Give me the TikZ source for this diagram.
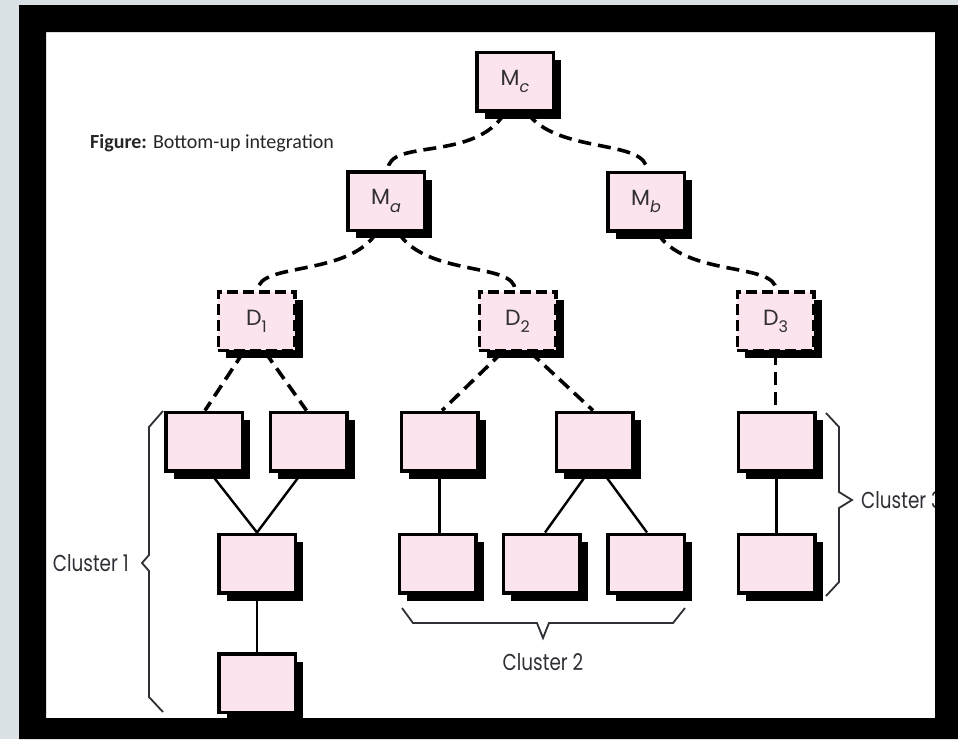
\documentclass[tikz,border=0pt]{standalone}
\usepackage{fontspec}
\setmainfont{Poppins}
\newfontfamily\capfont{Carlito}
\usetikzlibrary{shadows,calc,backgrounds}
\definecolor{boxpink}{RGB}{251,228,237}
\definecolor{pagegray}{RGB}{218,225,228}
\definecolor{inkgray}{RGB}{50,46,54}
% lowered index for module names
\newcommand\lowidx[1]{\raisebox{-0.6ex}{\fontsize{16}{16}\selectfont #1}}
\newcommand\narrow[1]{\scalebox{0.8}[1]{#1}}

\begin{document}
\begin{tikzpicture}[x=1pt,y=-1pt,
  unit/.style={rectangle, draw=black, line width=3.5pt, fill=boxpink,
    minimum width=76.5pt, minimum height=58.5pt, inner sep=0pt,
    text=inkgray, font=\fontsize{22}{22}\selectfont,
    drop shadow={shadow xshift=8pt, shadow yshift=-8pt, opacity=1, fill=black}},
  driver/.style={unit, dash pattern=on 11pt off 5pt},
  conn/.style={line width=3.6pt, dash pattern=on 13pt off 7pt},
  tie/.style={line width=2.4pt},
  bracket/.style={line width=1.8pt, draw=inkgray, line join=miter},
  clabel/.style={inner sep=0pt, text=inkgray, font=\fontsize{23}{23}\selectfont}
]
\useasboundingbox (0,0) rectangle (958,739);

% modules
\node[unit] (Mc) at (515,81.5) {\raisebox{0.5ex}{M\lowidx{\itshape c}}};
\node[unit] (Ma) at (386,201) {\raisebox{0.5ex}{M\lowidx{\itshape a}}};
\node[unit] (Mb) at (646,201.5) {\raisebox{0.5ex}{M\lowidx{\itshape b}}};
\node[driver] (D1) at (256.5,321) {\raisebox{0.5ex}{D\lowidx{1}}};
\node[driver] (D2) at (517.5,321) {\raisebox{0.5ex}{D\lowidx{2}}};
\node[driver] (D3) at (775.5,321) {\raisebox{0.5ex}{D\lowidx{3}}};
\node[unit] (A1) at (204,441.5) {};
\node[unit] (A2) at (308.5,441.5) {};
\node[unit] (B1) at (439.5,441.5) {};
\node[unit] (B2) at (594.5,441.5) {};
\node[unit] (C1) at (776.5,441.5) {};
\node[unit] (A3) at (257,563.5) {};
\node[unit] (B3) at (437.5,563.5) {};
\node[unit] (B4) at (541.5,563.5) {};
\node[unit] (B5) at (646,563.5) {};
\node[unit] (C2) at (776.5,563.5) {};
\node[unit] (A4) at (257,683) {};

\begin{scope}[on background layer]
  \fill[pagegray] (0,0) rectangle (958,739);
  \fill[white] (46,32) rectangle (935,718);
  % dashed calls between modules and drivers
  \draw[conn] ($(Mc.south)+(-10,0)$) .. controls +(-30,50) and +(0,-32) .. ($(Ma.north)+(2,0)$);
  \draw[conn] ($(Mc.south)+(12,0)$) .. controls +(30,42) and +(0,-32) .. ($(Mb.north)+(1,0)$);
  \draw[conn] ($(Ma.south)+(-9,0)$) .. controls +(-28,45) and +(0,-28) .. ($(D1.north)+(1.5,0)$);
  \draw[conn] ($(Ma.south)+(12,0)$) .. controls +(28,45) and +(0,-28) .. ($(D2.north)+(-2.5,0)$);
  \draw[conn] ($(Mb.south)+(11,0)$) .. controls +(28,45) and +(0,-28) .. ($(D3.north)+(0.5,0)$);
  \draw[conn] ($(D1.south)+(-13,0)$) -- ($(A1.north)+(1,0)$);
  \draw[conn] ($(D1.south)+(8.5,0)$) -- ($(A2.north)+(-2,0)$);
  \draw[conn] ($(D2.south)+(-15,0)$) -- ($(B1.north)+(2.5,0)$);
  \draw[conn] ($(D2.south)+(12.5,0)$) -- ($(B2.north)+(-1.5,0)$);
  \draw[conn] (D3.south) -- (D3.south |- C1.north);
  % solid links inside the clusters
  \draw[tie] ($(A1.south)+(6,0)$) -- (A3.north);
  \draw[tie] ($(A2.south)+(-6.5,0)$) -- (A3.north);
  \draw[tie] (A3.south) -- (A4.north);
  \draw[tie] (B1.south) -- (B1.south |- B3.north);
  \draw[tie] ($(B2.south)+(-6.5,0)$) -- ($(B4.north)+(3.5,0)$);
  \draw[tie] ($(B2.south)+(8.5,0)$) -- ($(B5.north)+(1,0)$);
  \draw[tie] (C1.south) -- (C1.south |- C2.north);
\end{scope}

% caption
\node[anchor=base west, inner sep=0pt, text=black!85,
  font=\capfont\fontsize{20}{20}\selectfont] (cap) at (90,148)
  {\textbf{Figure:} Bottom-up integration};

% cluster brackets
\draw[bracket] (163,411) -- (149,427) -- (149,555) -- (142,563) -- (149,571) -- (149,697) -- (163,712);
\draw[bracket] (402,608) -- (413,623) -- (537,623) -- (543,638) -- (549,623) -- (673,623) -- (685,608);
\draw[bracket] (826,413) -- (839,427) -- (839,492) -- (852,500) -- (839,508) -- (839,582) -- (826,596);

\node[clabel, anchor=east] (L1) at (129,563) {\narrow{Cluster 1}};
\node[clabel] (L2) at (543,662) {\narrow{Cluster 2}};
\node[clabel, anchor=west] (L3) at (861,500) {\narrow{Cluster 3}};

% black frame
\fill[black, even odd rule] (19,5) rectangle (958,739) (46,32) rectangle (935,718);
\end{tikzpicture}
\end{document}
